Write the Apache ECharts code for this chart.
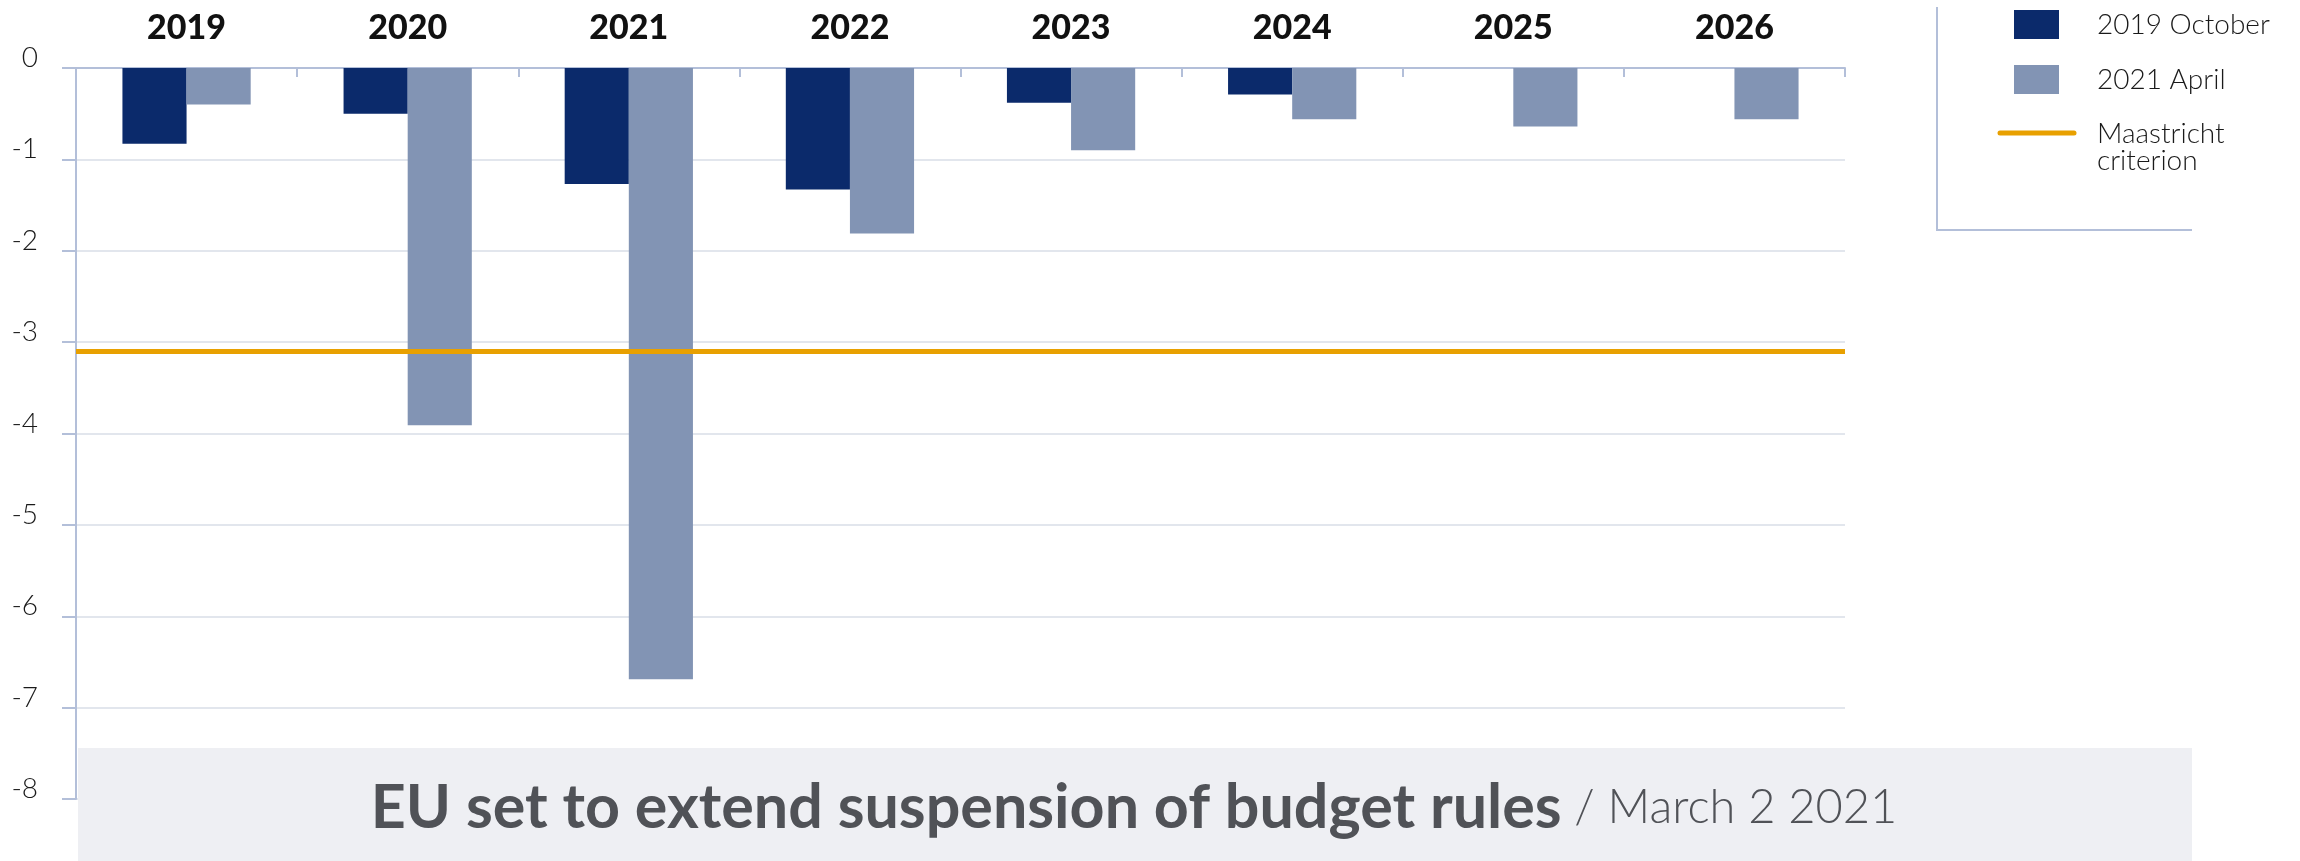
<!DOCTYPE html>
<html>
<head>
<meta charset="utf-8">
<title>EU set to extend suspension of budget rules</title>
<script src="https://cdn.jsdelivr.net/npm/echarts@6/dist/echarts.min.js"></script>
<style>
  html, body { margin: 0; padding: 0; background: #ffffff; }
  #chart { width: 2300px; height: 861px; }
</style>
</head>
<body>
<div id="chart"></div>
<script>
// Budget balance, % of GDP
const years = ['2019', '2020', '2021', '2022', '2023', '2024', '2025', '2026'];
const forecastOct2019 = [-0.83, -0.50, -1.27, -1.33, -0.38, -0.29, null, null];
const forecastApr2021 = [-0.40, -3.91, -6.69, -1.81, -0.90, -0.56, -0.64, -0.56];
const maastrichtLimit = -3.1;
const seriesNames = ['2019 October', '2021 April'];
const limitName = 'Maastricht criterion';
const yMin = -8, yMax = 0, yStep = 1;

const headline = 'EU set to extend suspension of budget rules';
const dateline = ' / March 2 2021';

const NAVY = '#0b2a6b';
const STEEL = '#8294b4';
const GOLD = '#e8a000';
const AXIS = '#b3bfd9';
const GRID = '#e2e6ed';
const FONT = 'Lato, "Open Sans", sans-serif';

const chart = echarts.init(document.getElementById('chart'), null, { renderer: 'canvas' });

chart.setOption({
  backgroundColor: '#ffffff',
  animation: false,
  grid: { left: 76, right: 455, top: 68, bottom: 62, containLabel: false },
  xAxis: {
    type: 'category',
    position: 'top',
    data: years,
    axisLine: { show: true, lineStyle: { color: AXIS, width: 2 } },
    axisTick: { show: true, inside: true, length: 9, lineStyle: { color: AXIS, width: 2 } },
    axisLabel: { margin: 23, color: '#111111', fontFamily: FONT, fontWeight: 900, fontSize: 34 },
    splitLine: { show: false }
  },
  yAxis: {
    type: 'value',
    min: yMin, max: yMax, interval: yStep,
    axisLine: { show: true, lineStyle: { color: AXIS, width: 2 } },
    axisTick: { show: true, inside: false, length: 14, lineStyle: { color: AXIS, width: 2 } },
    axisLabel: {
      margin: 38, color: '#1a1a1a', fontFamily: FONT, fontWeight: 300, fontSize: 28,
      align: 'right', verticalAlign: 'bottom', lineHeight: 20
    },
    splitLine: { show: true, lineStyle: { color: GRID, width: 2 } }
  },
  series: [
    {
      name: seriesNames[0], type: 'bar', data: forecastOct2019,
      barGap: '0%', barCategoryGap: '42%',
      itemStyle: { color: NAVY }, z: 3
    },
    {
      name: seriesNames[1], type: 'bar', data: forecastApr2021,
      barGap: '0%', barCategoryGap: '42%',
      itemStyle: { color: STEEL }, z: 3,
      markLine: {
        silent: true, symbol: ['none', 'none'], label: { show: false },
        lineStyle: { color: GOLD, width: 5, type: 'solid' },
        data: [{ name: limitName, yAxis: maastrichtLimit }],
        z: 5
      }
    }
  ],
  graphic: [
    // legend frame
    {
      type: 'polyline', z: 10,
      shape: { points: [[1937, 7], [1937, 230], [2192, 230]] },
      style: { stroke: AXIS, lineWidth: 2, fill: null }
    },
    { type: 'rect', z: 10, shape: { x: 2014, y: 10, width: 45, height: 29 }, style: { fill: NAVY } },
    { type: 'text', z: 10, x: 2097, y: 25,
      style: { text: seriesNames[0], fill: '#1a1a1a', font: '300 28px ' + FONT, verticalAlign: 'middle' } },
    { type: 'rect', z: 10, shape: { x: 2014, y: 65, width: 45, height: 29 }, style: { fill: STEEL } },
    { type: 'text', z: 10, x: 2097, y: 80,
      style: { text: seriesNames[1], fill: '#1a1a1a', font: '300 28px ' + FONT, verticalAlign: 'middle' } },
    { type: 'line', z: 10, shape: { x1: 2000, y1: 133, x2: 2074, y2: 133 },
      style: { stroke: GOLD, lineWidth: 5, lineCap: 'round' } },
    { type: 'text', z: 10, x: 2097, y: 120,
      style: { text: 'Maastricht\ncriterion', fill: '#1a1a1a', font: '300 28px ' + FONT,
               lineHeight: 27, verticalAlign: 'top' } },
    // headline band
    { type: 'rect', z: 20, shape: { x: 78, y: 748, width: 2114, height: 113 }, style: { fill: '#eeeff3' } },
    {
      type: 'text', z: 21, x: 1134, y: 808,
      style: {
        text: '{h|' + headline + '}{d|' + dateline + '}',
        align: 'center', verticalAlign: 'middle',
        rich: {
          h: { fontFamily: FONT, fontWeight: 'bold', fontSize: 61, fill: '#505257' },
          d: { fontFamily: FONT, fontWeight: 300, fontSize: 47, fill: '#505257' }
        }
      }
    }
  ]
});
</script>
</body>
</html>
